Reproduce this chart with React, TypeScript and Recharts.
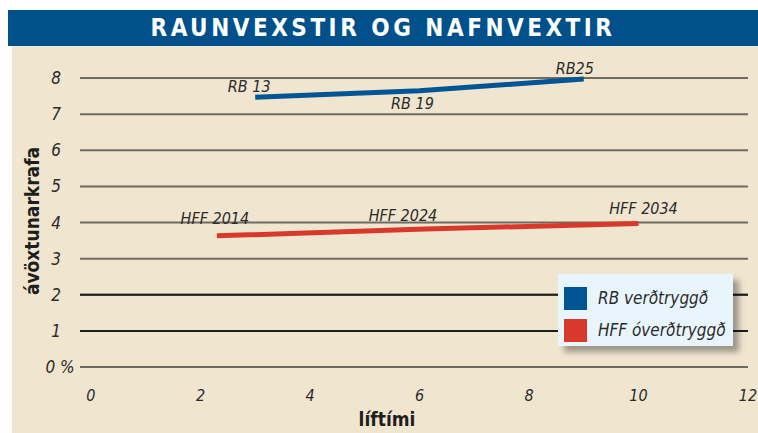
import { LineChart, Line, XAxis, YAxis, CartesianGrid, ReferenceLine, LabelList } from "recharts";

const rbX = [3, 6, 9];
const rbYield = [7.47, 7.65, 7.97];
const rbNames = ["RB 13", "RB 19", "RB25"];

const hffX = [2.3, 6.1, 10];
const hffYield = [3.63, 3.82, 3.97];
const hffNames = ["HFF 2014", "HFF 2024", "HFF 2034"];

const xTicks = [0, 2, 4, 6, 8, 10, 12];
const yTicks = [0, 1, 2, 3, 4, 5, 6, 7, 8];
const darkGridLines = [1, 2];

const seriesNames = ["RB verðtryggð", "HFF óverðtryggð"];

const BLUE = "#005694";
const RED = "#d9392a";
const FONT = '"Liberation Sans Narrow", "DejaVu Sans Condensed", "Roboto", sans-serif';

const rbData = rbX.map((x, i) => ({ x, y: rbYield[i], name: rbNames[i] }));
const hffData = hffX.map((x, i) => ({ x, y: hffYield[i], name: hffNames[i] }));

// label nudges relative to each point
const rbOffsets = [
  [-6, -5],
  [-7, 18],
  [-9, -5],
];
const hffOffsets = [
  [-2, -12],
  [-22, -8],
  [5, -10],
];

const makeLabel = (offsets: number[][]) => (props: any) => {
  const { x, y, value, index } = props;
  const [dx, dy] = offsets[index] || [0, 0];
  return (
    <text
      x={x + dx}
      y={y + dy}
      textAnchor="middle"
      fontFamily={FONT}
      fontStyle="italic"
      fontSize={16}
      fill="#2b2b2b"
    >
      {value}
    </text>
  );
};

const YTick = (props: any) => {
  const { y, payload } = props;
  const v = payload.value;
  return (
    <text
      x={v === 0 ? 60 : 56}
      y={y + 6}
      textAnchor="middle"
      fontFamily={FONT}
      fontStyle="italic"
      fontSize={17}
      fill="#2b2b2b"
    >
      {v === 0 ? "0 %" : v}
    </text>
  );
};

const XTick = (props: any) => {
  const { x, payload } = props;
  return (
    <text
      x={x}
      y={401}
      textAnchor="middle"
      fontFamily={FONT}
      fontStyle="italic"
      fontSize={16}
      fill="#2b2b2b"
    >
      {payload.value}
    </text>
  );
};

const LegendBox = () => (
  <div
    style={{
      position: "absolute",
      left: 558,
      top: 274,
      background: "#e9f5fc",
      boxShadow: "6px 6px 6px rgba(0,0,0,0.35)",
      width: 175,
      height: 72,
      boxSizing: "border-box",
      padding: "8px 0 0 6px",
      fontFamily: FONT,
      fontStyle: "italic",
      fontSize: 17,
      color: "#2b2b2b",
    }}
  >
    {seriesNames.map((n, i) => (
      <div key={n} style={{ display: "flex", alignItems: "center", height: 32 }}>
        <div style={{ width: 23, height: 23, background: i === 0 ? BLUE : RED, marginRight: 11 }} />
        <span>{n}</span>
      </div>
    ))}
  </div>
);

export default function App() {
  return (
    <div style={{ position: "absolute", left: 0, top: 0, width: 758, height: 433, background: "#fff" }}>
      <div
        style={{
          position: "absolute",
          left: 8,
          top: 10,
          width: 750,
          height: 36,
          background: "#00518b",
          color: "#fff",
          fontFamily: FONT,
          fontWeight: "bold",
          fontSize: 24,
          letterSpacing: 3.5,
          lineHeight: "36px",
          textAlign: "center",
        }}
      >
        RAUNVEXSTIR OG NAFNVEXTIR
      </div>
      <div style={{ position: "absolute", left: 12, top: 46, width: 746, height: 387, background: "#f0e5cf" }} />
      <div style={{ position: "absolute", left: 0, top: 0 }}>
        <LineChart width={758} height={433} margin={{ top: 78, right: 10, bottom: 0, left: 0 }}>
          <CartesianGrid horizontal vertical={false} stroke="#6f6a63" strokeWidth={2} />
          {darkGridLines.map((v) => (
            <ReferenceLine key={v} y={v} stroke="#1e1e1e" strokeWidth={2} />
          ))}
          <XAxis
            dataKey="x"
            type="number"
            domain={[-0.2, 12]}
            ticks={xTicks}
            height={66}
            axisLine={false}
            tickLine={false}
            tick={<XTick />}
            allowDuplicatedCategory={false}
            label={{
              content: () => (
                <text x={387} y={426} textAnchor="middle" fontFamily={FONT} fontWeight="bold" fontSize={19} fill="#1e1e1e">
                  líftími
                </text>
              ),
            }}
          />
          <YAxis
            type="number"
            domain={[0, 8]}
            ticks={yTicks}
            width={80}
            axisLine={false}
            tickLine={false}
            tick={<YTick />}
            label={{
              content: () => (
                <text
                  x={39}
                  y={221}
                  transform="rotate(-90 39 221)"
                  textAnchor="middle"
                  fontFamily={FONT}
                  fontWeight="bold"
                  fontSize={19}
                  fill="#1e1e1e"
                >
                  ávöxtunarkrafa
                </text>
              ),
            }}
          />
          <Line
            data={rbData}
            dataKey="y"
            name={seriesNames[0]}
            stroke={BLUE}
            strokeWidth={5}
            strokeLinecap="butt"
            dot={false}
            isAnimationActive={false}
          >
            <LabelList dataKey="name" content={makeLabel(rbOffsets)} />
          </Line>
          <Line
            data={hffData}
            dataKey="y"
            name={seriesNames[1]}
            stroke={RED}
            strokeWidth={5}
            strokeLinecap="butt"
            dot={false}
            isAnimationActive={false}
          >
            <LabelList dataKey="name" content={makeLabel(hffOffsets)} />
          </Line>
        </LineChart>
      </div>
      <LegendBox />
    </div>
  );
}
